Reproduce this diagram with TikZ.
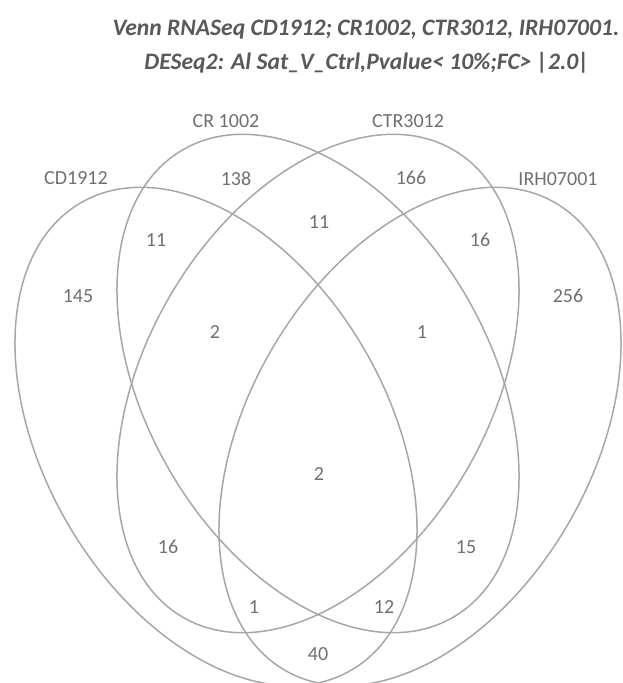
\documentclass[tikz,border=0pt]{standalone}
\usepackage{fontspec}
\setmainfont{Carlito}
\definecolor{linegray}{RGB}{166,166,171}
\definecolor{labelgray}{RGB}{112,112,112}
\definecolor{titlegray}{RGB}{89,89,89}
\begin{document}
\begin{tikzpicture}[x=1pt,y=1pt,
  venn/.style={draw=linegray, line width=1.5pt},
  lbl/.style={text=labelgray, font=\fontsize{20}{24}\selectfont, inner sep=0pt},
  ttl/.style={text=titlegray, font=\fontsize{23.6}{29}\selectfont\bfseries\itshape, inner sep=0pt, anchor=base}]
\useasboundingbox (0,0) rectangle (623,683);
\clip (0,0) rectangle (623,683);
% title
\node[ttl] (t1) at (366,647) {Venn RNASeq CD1912; CR1002, CTR3012, IRH07001.};
\node[ttl] (t2) at (367,613) {DESeq2: Al Sat\_V\_Ctrl,Pvalue< 10\%;FC> |2.0|};
% ellipse centres
\coordinate (cA) at (216,246.5);
\coordinate (cB) at (318,299.5);
\coordinate (cC) at (318,299.5);
\coordinate (cD) at (420,246.5);
\draw[venn, rotate around={30:(cA)}] (cA) ellipse [x radius=172pt, y radius=270pt];
\draw[venn, rotate around={30:(cB)}] (cB) ellipse [x radius=172pt, y radius=270pt];
\draw[venn, rotate around={-30:(cC)}] (cC) ellipse [x radius=172pt, y radius=270pt];
\draw[venn, rotate around={-30:(cD)}] (cD) ellipse [x radius=172pt, y radius=270pt];
% set names
\node[lbl] (nA) at (76,505) {CD1912};
\node[lbl] (nB) at (226,562) {CR 1002};
\node[lbl] (nC) at (408,562) {CTR3012};
\node[lbl] (nD) at (558,504) {IRH07001};
% counts
\node[lbl] (r138) at (236,504) {138};
\node[lbl] (r166) at (411,505) {166};
\node[lbl] (r11a) at (156,443) {11};
\node[lbl] (r11b) at (319,461) {11};
\node[lbl] (r16a) at (480,443) {16};
\node[lbl] (r145) at (78,387) {145};
\node[lbl] (r256) at (568,387) {256};
\node[lbl] (r2a) at (215,351) {2};
\node[lbl] (r1a) at (422,351) {1};
\node[lbl] (r2b) at (319,209) {2};
\node[lbl] (r16b) at (168,136) {16};
\node[lbl] (r15) at (466,136) {15};
\node[lbl] (r1b) at (254,76) {1};
\node[lbl] (r12) at (384,76) {12};
\node[lbl] (r40) at (318,29) {40};
\end{tikzpicture}
\end{document}
